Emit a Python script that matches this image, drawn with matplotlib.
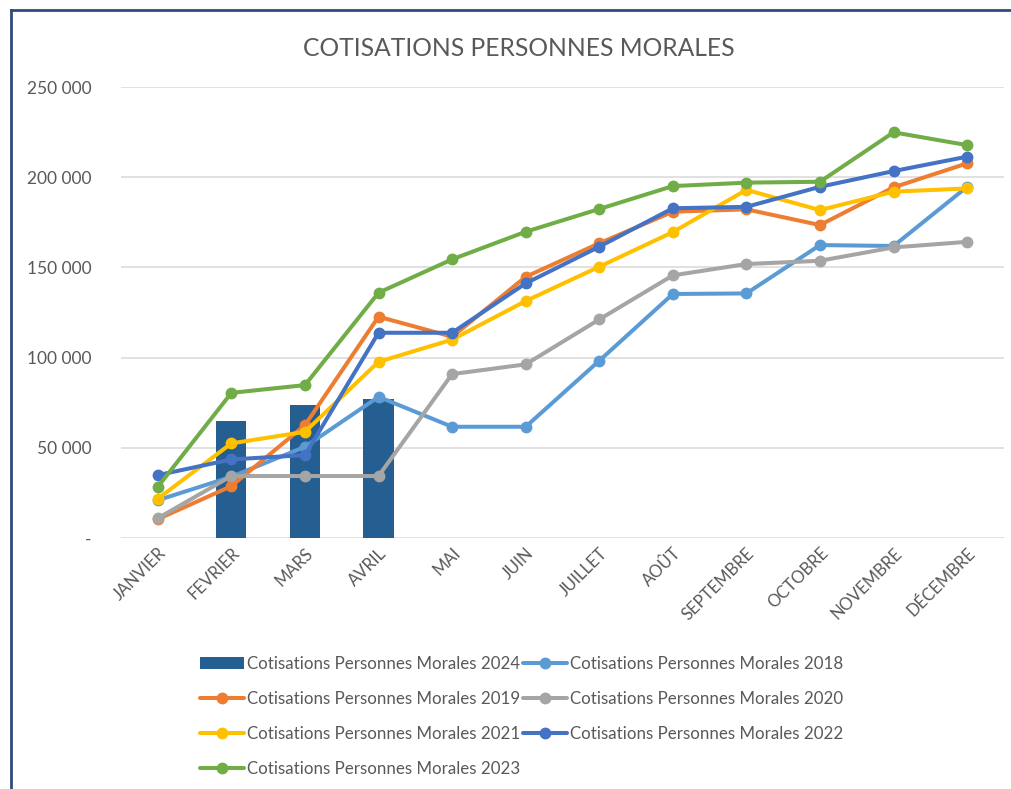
import numpy as np
import matplotlib
matplotlib.use("Agg")
import matplotlib.pyplot as plt
from matplotlib.ticker import FuncFormatter

plt.rcParams['font.family'] = ['Lato', 'DejaVu Sans']

mois = ['JANVIER', 'FEVRIER', 'MARS', 'AVRIL', 'MAI', 'JUIN', 'JUILLET',
        'AOÛT', 'SEPTEMBRE', 'OCTOBRE', 'NOVEMBRE', 'DÉCEMBRE']

# 2024 = barres (seulement janvier-avril)
cot_2024 = [np.nan, 65000, 74000, 77000]

cot_2018 = [21000, 34000, 50600, 78300, 61700, 61700, 98300, 135300, 135600, 162400, 161900, 194700]
cot_2019 = [10500, 28800, 62600, 122700, 111600, 144800, 163400, 180900, 182200, 173500, 194400, 207700]
cot_2020 = [11000, 34400, 34400, 34400, 90900, 96300, 121200, 145600, 151900, 153700, 161100, 164200]
cot_2021 = [21800, 52500, 58900, 97700, 110000, 131400, 150400, 169600, 193000, 181800, 192000, 193800]
cot_2022 = [34900, 43600, 46000, 113800, 113800, 141200, 161500, 182800, 183600, 194700, 203400, 211400]
cot_2023 = [28400, 80500, 84800, 136000, 154500, 169800, 182400, 195100, 197000, 197500, 224900, 217800]

series = [
    ('Cotisations Personnes Morales 2018', cot_2018, '#5B9BD5'),
    ('Cotisations Personnes Morales 2019', cot_2019, '#ED7D31'),
    ('Cotisations Personnes Morales 2020', cot_2020, '#A5A5A5'),
    ('Cotisations Personnes Morales 2021', cot_2021, '#FFC000'),
    ('Cotisations Personnes Morales 2022', cot_2022, '#4472C4'),
    ('Cotisations Personnes Morales 2023', cot_2023, '#70AD47'),
]

gris = '#595959'

fig = plt.figure(figsize=(10.12, 7.89), dpi=100)
ax = fig.add_axes([0.1196, 0.318, 0.8724, 0.5717])

x = np.arange(len(mois))
bars = ax.bar(x[:len(cot_2024)], cot_2024, width=0.41, color='#255E91',
              label='Cotisations Personnes Morales 2024', zorder=2)

lines = {}
for nom, vals, col in series:
    l, = ax.plot(x, vals, color=col, lw=2.9, marker='o', ms=7.5,
                 label=nom, zorder=3, solid_capstyle='round')
    lines[nom] = l

ax.set_xlim(-0.5, 11.5)
ax.set_ylim(0, 250000)
ax.set_yticks(np.arange(0, 250001, 50000))
ax.yaxis.set_major_formatter(FuncFormatter(
    lambda v, p: '-' if v == 0 else f"{int(v):,}".replace(',', ' ')))
ax.grid(axis='y', color='#D9D9D9', lw=1.1, zorder=0)
ax.set_axisbelow(True)
for s in ax.spines.values():
    s.set_visible(False)
ax.tick_params(axis='y', length=0, pad=21, labelsize=12.5, labelcolor=gris)
ax.tick_params(axis='x', length=0, pad=5, labelsize=12, labelcolor=gris)
ax.set_xticks(x)
ax.set_xticklabels(mois, rotation=45, ha='right', rotation_mode='anchor')

fig.text(0.513, 0.939, 'COTISATIONS PERSONNES MORALES', ha='center', va='center',
         fontsize=17.7, color=gris)

# ordre de légende ligne par ligne (2 colonnes)
h = [bars, lines[series[1][0]], lines[series[3][0]], lines[series[5][0]],
     lines[series[0][0]], lines[series[2][0]], lines[series[4][0]]]
labs = [a.get_label() for a in h]
fig.legend(h, labs, loc='center', bbox_to_anchor=(0.5155, 0.092), ncol=2,
           frameon=False, fontsize=12.2, labelcolor=gris, handlelength=2.6,
           handletextpad=0.2, columnspacing=0.15, labelspacing=1.12)

# cadre
fig.add_artist(plt.Line2D([0.0109, 0.0109], [0, 0.987], color='#2F4B7C', lw=2))
fig.add_artist(plt.Line2D([0.0109, 1.0], [0.987, 0.987], color='#2F4B7C', lw=2))

fig.savefig('out.png', dpi=100)
